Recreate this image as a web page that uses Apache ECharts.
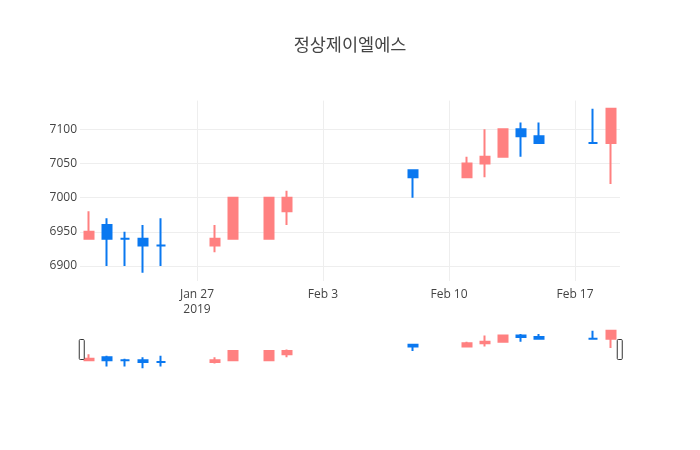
<!DOCTYPE html>
<html>
<head>
<meta charset="utf-8">
<script src="https://cdn.jsdelivr.net/npm/echarts@6/dist/echarts.min.js"></script>
<style>
  html, body { margin: 0; padding: 0; background: #fff; }
  #chart { width: 700px; height: 450px; }
</style>
</head>
<body>
<div id="chart"></div>
<script>
// 일봉 데이터
const dates  = ['2019-01-21', '2019-01-22', '2019-01-23', '2019-01-24', '2019-01-25',
                '2019-01-28', '2019-01-29', '2019-01-31', '2019-02-01', '2019-02-08',
                '2019-02-11', '2019-02-12', '2019-02-13', '2019-02-14', '2019-02-15',
                '2019-02-18', '2019-02-19']
const opens  = [6940, 6960, 6940, 6940, 6930, 6930, 6940, 6940, 6980, 7040, 7030, 7050, 7060, 7100, 7090, 7080, 7080]
const closes = [6950, 6940, 6940, 6930, 6930, 6940, 7000, 7000, 7000, 7030, 7050, 7060, 7100, 7090, 7080, 7080, 7130]
const lows   = [6940, 6900, 6900, 6890, 6900, 6920, 6940, 6940, 6960, 7000, 7030, 7030, 7060, 7060, 7080, 7080, 7020]
const highs  = [6980, 6970, 6950, 6960, 6970, 6960, 7000, 7000, 7010, 7040, 7060, 7100, 7100, 7110, 7110, 7130, 7130]

const xTickDates = ['2019-01-27', '2019-02-03', '2019-02-10', '2019-02-17']
const yTickValues = [6900, 6950, 7000, 7050, 7100]
const xRange = ['2019-01-20T12:00:00', '2019-02-19T12:00:00']
const yRange = [6878, 7142]

const UP = '#ff8080'
const DOWN = '#0a78f0'
const MONTHS = ['Jan', 'Feb', 'Mar', 'Apr', 'May', 'Jun', 'Jul', 'Aug', 'Sep', 'Oct', 'Nov', 'Dec']

const toTime = s => new Date(s.length > 10 ? s : s + 'T00:00:00').getTime()
const xTicks = xTickDates.map(toTime)

// plotly 규칙: 종가 > 시가 이면 상승, 아니면 하락
const candles = dates.map((d, i) => {
  const c = closes[i] > opens[i] ? UP : DOWN
  return {
    value: [toTime(d), opens[i], closes[i], lows[i], highs[i]],
    itemStyle: { color: c, color0: c, borderColor: c, borderColor0: c }
  }
})

const font = { fontFamily: 'Open Sans', fontSize: 12, color: '#444' }

const chart = echarts.init(document.getElementById('chart'), null, { renderer: 'canvas' })

chart.setOption({
  animation: false,
  title: {
    text: '정상제이엘에스',
    left: 'center',
    top: 31,
    textStyle: { fontFamily: 'Noto Sans CJK KR', fontSize: 17.5, fontWeight: 'normal', color: '#444' }
  },
  grid: [
    { left: 80, right: 80, top: 100.6, height: 180.4 },
    { left: 80, right: 80, top: 329, height: 41 }
  ],
  xAxis: [
    {
      type: 'value',
      gridIndex: 0,
      min: toTime(xRange[0]),
      max: toTime(xRange[1]),
      axisLine: { show: false },
      axisTick: { show: false, customValues: xTicks },
      axisLabel: {
        ...font,
        margin: 6,
        lineHeight: 15,
        customValues: xTicks,
        // 첫 눈금에만 연도 표시
        formatter: v => {
          const d = new Date(v)
          const s = MONTHS[d.getMonth()] + ' ' + d.getDate()
          return v === xTicks[0] ? s + '\n' + d.getFullYear() : s
        }
      },
      splitLine: { show: true, lineStyle: { color: '#eee', width: 1 } }
    },
    {
      type: 'value',
      gridIndex: 1,
      min: toTime(xRange[0]),
      max: toTime(xRange[1]),
      show: false
    }
  ],
  yAxis: [
    {
      type: 'value',
      gridIndex: 0,
      min: yRange[0],
      max: yRange[1],
      axisLine: { show: false },
      axisTick: { show: false, customValues: yTickValues },
      axisLabel: { ...font, margin: 3, customValues: yTickValues, formatter: v => String(v) },
      splitLine: { show: true, lineStyle: { color: '#eee', width: 1 } }
    },
    {
      type: 'value',
      gridIndex: 1,
      min: yRange[0],
      max: yRange[1],
      show: false
    }
  ],
  dataZoom: [{
    type: 'slider',
    xAxisIndex: [0, 1],
    filterMode: 'none',
    start: 0,
    end: 100,
    left: 80,
    right: 80,
    top: 329,
    height: 41,
    showDataShadow: false,
    showDetail: false,
    brushSelect: false,
    zoomLock: true,
    backgroundColor: 'rgba(0,0,0,0)',
    borderColor: 'rgba(0,0,0,0)',
    fillerColor: 'rgba(0,0,0,0)',
    moveHandleSize: 0,
    handleIcon: 'path://M1,0h3a1,1,0,0,1,1,1v18a1,1,0,0,1,-1,1h-3a1,1,0,0,1,-1,-1v-18a1,1,0,0,1,1,-1z',
    handleSize: 20,
    handleStyle: { color: '#fff', borderColor: '#333', borderWidth: 1 },
    emphasis: { handleStyle: { color: '#fff', borderColor: '#333', borderWidth: 1 } }
  }],
  series: [
    {
      type: 'candlestick',
      xAxisIndex: 0,
      yAxisIndex: 0,
      barWidth: 9,
      itemStyle: { borderWidth: 2 },
      data: candles
    },
    {
      type: 'candlestick',
      xAxisIndex: 1,
      yAxisIndex: 1,
      barWidth: 9,
      silent: true,
      itemStyle: { borderWidth: 2 },
      data: candles
    }
  ]
})
</script>
</body>
</html>
